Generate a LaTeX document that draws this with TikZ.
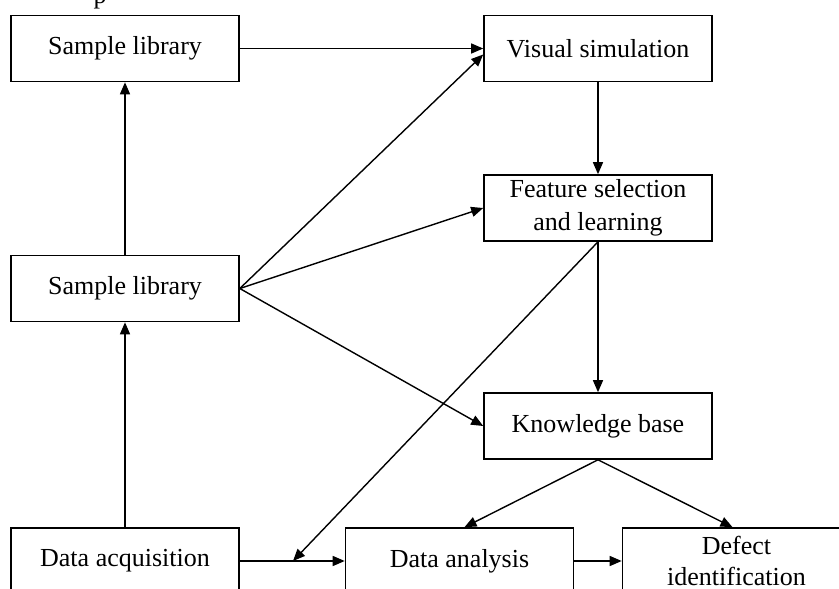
\documentclass[tikz,border=0pt]{standalone}
\usepackage{fontspec}
\setmainfont{Liberation Serif}
\usetikzlibrary{arrows.meta}
\begin{document}
\begin{tikzpicture}[x=1pt,y=-1pt,
  box/.style={draw,line width=1.6pt,minimum width=228pt,minimum height=66pt,inner sep=0pt,
    font=\fontsize{26}{33}\selectfont,align=center},
  conn/.style={line width=1.4pt,-{Triangle[length=12pt,width=10pt]}},
  plain/.style={line width=1.4pt}]
\clip (0,0) rectangle (839,589);
\fill[white] (0,0) rectangle (839,589);
\node[font=\fontsize{26}{33}\selectfont,anchor=base,inner sep=0pt] (frag) at (100,3.5) {p};
\node[box] (sl1) at (125,48.5) {Sample library};
\node[box] (vis) at (598,48.5) {Visual simulation};
\node[box] (feat) at (598,208) {Feature selection\\and learning};
\node[box] (sl2) at (125,288.5) {Sample library};
\node[box] (kb) at (598,426) {Knowledge base};
\node[box] (acq) at (125,561) {Data acquisition};
\node[box] (ana) at (459.5,561) {Data analysis};
\node[box,font=\fontsize{26}{31}\selectfont] (def) at (736.5,561) {Defect\\identification};
\coordinate (m) at (293,561);
\draw[conn] (sl1.east) -- (vis.west);
\draw[conn] (sl2.north) -- (sl1.south);
\draw[conn] (acq.north) -- (sl2.south);
\draw[conn] (sl2.east) -- ([yshift=-6pt]vis.west);
\draw[conn] (sl2.east) -- (feat.west);
\draw[conn] (sl2.east) -- (kb.west);
\draw[conn] (vis.south) -- (feat.north);
\draw[conn] (feat.south) -- (kb.north);
\draw[conn] (feat.south) -- (m);
\draw[conn] (acq.east) -- (ana.west);
\draw[conn] (kb.south) -- ([xshift=5pt]ana.north);
\draw[conn] (kb.south) -- ([xshift=-4pt]def.north);
\draw[conn] (ana.east) -- (def.west);
\end{tikzpicture}
\end{document}
